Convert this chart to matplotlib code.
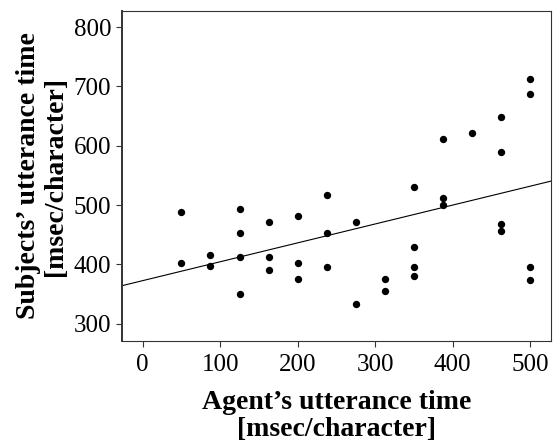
import numpy as np
import matplotlib
matplotlib.use('Agg')
import matplotlib.pyplot as plt

# agent's utterance time (x) and subjects' utterance time (y), msec/character
agent_time = [50, 50, 87.5, 87.5, 125, 125, 125, 125,
              162.5, 162.5, 162.5, 200, 200, 200, 237.5, 237.5, 237.5,
              275, 275, 312.5, 312.5, 350, 350, 350, 350,
              387.5, 387.5, 387.5, 425, 462.5, 462.5, 462.5, 462.5,
              500, 500, 500, 500]
subject_time = [488, 402, 416, 397, 494, 453, 412, 350,
                471, 412, 391, 481, 403, 376, 517, 453, 396,
                472, 334, 376, 356, 530, 430, 395, 380,
                612, 512, 500, 622, 648, 590, 468, 456,
                712, 687, 395, 373]
x_ticks = [0, 100, 200, 300, 400, 500]
y_ticks = [300, 400, 500, 600, 700, 800]

plt.rcParams['font.family'] = ['Liberation Serif', 'DejaVu Serif']

fig = plt.figure(figsize=(5.54, 4.42), dpi=100)
ax = fig.add_axes([0.2197, 0.2285, 0.775, 0.7465])

x = np.array(agent_time)
y = np.array(subject_time)
ax.scatter(x, y, s=28, color='black', zorder=3, linewidths=0)

slope, intercept = np.polyfit(x, y, 1)
xl = np.array([-30, 530])
ax.plot(xl, intercept + slope * xl, color='black', lw=0.8)

ax.set_xlim(-27, 527)
ax.set_ylim(271, 827)
ax.set_xticks(x_ticks)
ax.set_yticks(y_ticks)
ax.tick_params(labelsize=18, length=4.5, width=0.8, color='#333333')
ax.tick_params(axis='x', pad=5)
ax.tick_params(axis='y', pad=3)

for s in ax.spines.values():
    s.set_linewidth(0.8)
    s.set_color('#333333')
ax.spines['left'].set_linewidth(1.4)

ax.set_xlabel("Agent\u2019s utterance time\n[msec/character]", fontsize=20,
              fontweight='bold', linespacing=1.1, labelpad=10)
ax.set_ylabel("Subjects\u2019 utterance time\n[msec/character]", fontsize=20,
              fontweight='bold', linespacing=1.1, labelpad=4)

plt.savefig('out.png', dpi=100)
